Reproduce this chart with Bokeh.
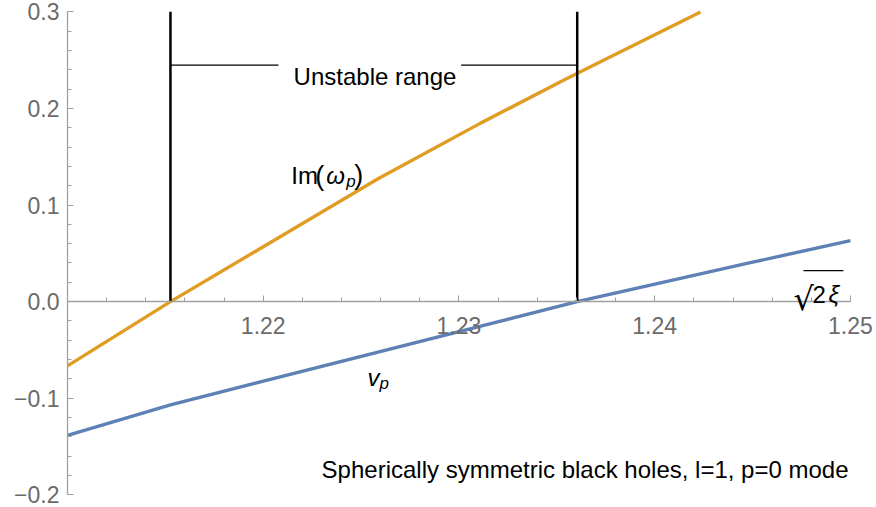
import numpy as np
from bokeh.plotting import figure
from bokeh.models import FixedTicker, Label, Range1d
from bokeh.embed import file_html
from bokeh.resources import INLINE

# ---- data ----
im_x = [1.21, 1.21526, 1.22582, 1.23108, 1.23519, 1.23605, 1.24234]
im_y = [-0.0665, 0.0, 0.1266, 0.1845, 0.2275, 0.2364, 0.2999]

vp_x = [1.21, 1.21526, 1.23604, 1.245, 1.25]
vp_y = [-0.1386, -0.1068, 0.0, 0.0408, 0.0631]

unstable_bounds = [1.21526, 1.23604]
bound_bottom = 0.0
bound_top = 0.3
bracket_y = 0.2448
bracket_left_end = 1.22078
bracket_right_start = 1.23011

x_ticks = [1.22, 1.23, 1.24, 1.25]
x_tick_labels = ["1.22", "1.23", "1.24", "1.25"]
y_ticks = [-0.2, -0.1, 0.0, 0.1, 0.2, 0.3]
y_tick_labels = ["\u22120.2", "\u22120.1", "0.0", "0.1", "0.2", "0.3"]
x_minor = [round(v, 3) for v in np.arange(1.212, 1.2501, 0.002)]
y_minor = [round(v, 2) for v in np.arange(-0.2, 0.3001, 0.02)]
x_axis_bounds = (1.21, 1.25)
y_axis_bounds = (-0.2, 0.3)

FONT = "Liberation Sans"
FS = "24px"
TICK_FS = "23px"
ORANGE = "#E19C24"
BLUE = "#5E81B5"

# frame padded slightly beyond the axes so end tick labels are not clipped
p = figure(width=876, height=507, output_backend="svg", toolbar_location=None,
           x_range=Range1d(1.21, 1.25133), y_range=Range1d(-0.21314, 0.31170),
           min_border_left=67, min_border_right=0, min_border_top=0, min_border_bottom=0)
p.outline_line_color = None
p.grid.visible = False
p.background_fill_color = "white"
p.border_fill_color = "white"

# axes
for ax, ticks, minor, labels, bnds in [(p.xaxis[0], x_ticks, x_minor, x_tick_labels, x_axis_bounds),
                                       (p.yaxis[0], y_ticks, y_minor, y_tick_labels, y_axis_bounds)]:
    ax.ticker = FixedTicker(ticks=ticks, minor_ticks=minor)
    ax.major_label_overrides = dict(zip(ticks, labels))
    ax.bounds = bnds
    ax.axis_line_color = "#a0a0a0"
    ax.axis_line_width = 1.3
    ax.major_tick_line_color = "#a0a0a0"
    ax.minor_tick_line_color = "#a0a0a0"
    ax.major_tick_out = 0
    ax.minor_tick_out = 0
    ax.major_tick_in = 6
    ax.minor_tick_in = 4
    ax.major_label_text_font = FONT
    ax.major_label_text_font_size = TICK_FS
    ax.major_label_text_color = "#6b6b6b"
p.xaxis[0].fixed_location = 0
p.xaxis[0].major_label_standoff = 15
p.yaxis[0].major_label_standoff = 8

# curves
p.line(vp_x, vp_y, line_color=BLUE, line_width=3.4)
p.line(im_x, im_y, line_color=ORANGE, line_width=3.4)

# unstable range markers
p.segment(x0=unstable_bounds, y0=[bound_bottom] * 2, x1=unstable_bounds, y1=[bound_top] * 2,
          line_color="black", line_width=2.5)
p.segment(x0=[unstable_bounds[0], bracket_right_start], y0=[bracket_y] * 2,
          x1=[bracket_left_end, unstable_bounds[1]], y1=[bracket_y] * 2,
          line_color="black", line_width=1.3)

def lab(x, y, text, size=FS, style="normal", align="left", xo=0, yo=0, font=FONT):
    p.add_layout(Label(x=x, y=y, text=text, x_offset=xo, y_offset=yo,
                       text_font=font, text_font_size=size, text_font_style=style,
                       text_color="black", text_align=align, text_baseline="alphabetic"))

lab(1.22571, 0.2334, "Unstable range", align="center")

# Im(omega_p)
im_lx, im_ly = 1.22143, 0.1303
lab(im_lx, im_ly, "Im")
lab(im_lx, im_ly, "(", size="27px", xo=24)
lab(im_lx, im_ly, "\u03c9", style="italic", xo=35)
lab(im_lx, im_ly, "p", size="17px", style="italic", xo=55, yo=-6)
lab(im_lx, im_ly, ")", size="27px", xo=63, yo=1)

# v_p
vp_lx, vp_ly = 1.22533, -0.0789
lab(vp_lx, vp_ly, "v", style="italic")
lab(vp_lx, vp_ly, "p", size="17px", style="italic", xo=12, yo=-6)

# axis label sqrt(2 xi)
sq_x, sq_y = 1.24709, 0.0069
lab(sq_x, sq_y, "\u221a", size="32px", font="DejaVu Sans", yo=-4)
lab(sq_x, sq_y, "2 ", xo=19)
lab(sq_x, sq_y, "\u03be", style="italic", xo=35)
p.segment(x0=[1.2476], y0=[0.0321], x1=[1.24964], y1=[0.0321], line_color="black", line_width=1.3)

# caption
lab(1.2499, -0.174, "Spherically symmetric black holes, l=1, p=0 mode", align="right")

open("out.html", "w").write(file_html(p, INLINE))
